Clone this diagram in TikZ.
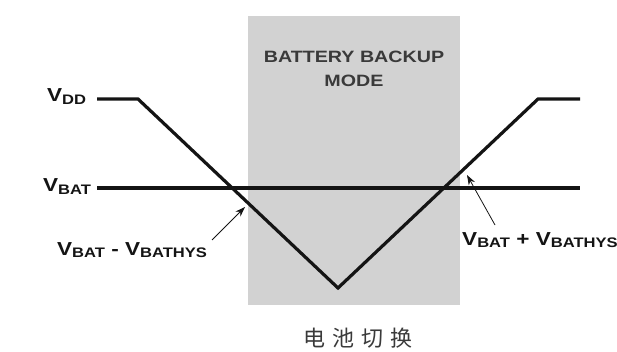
\documentclass[tikz,border=0pt]{standalone}
\usepackage{fontspec}
\setmainfont{Liberation Sans}
\newfontfamily\cjk{Noto Sans CJK SC}
\usetikzlibrary{arrows.meta}
\definecolor{boxgray}{HTML}{D2D2D2}
\definecolor{inkc}{HTML}{141414}
\definecolor{titlec}{HTML}{3A3A3A}
\newcommand\vsub[1]{V\raisebox{-2.5pt}{\fontsize{13.8}{13.8}\selectfont #1}}
\newcommand\wide[1]{\scalebox{1.2}[1]{#1}}
\tikzset{
  sig/.style={line width=3.2pt, inkc, line join=miter},
  lbl/.style={inner sep=0pt, font=\bfseries\fontsize{18.8}{18.8}\selectfont, text=inkc},
  ttl/.style={inner sep=0pt, font=\bfseries\fontsize{16.4}{16.4}\selectfont, text=titlec},
  ptr/.style={line width=0.8pt, inkc, -{Stealth[length=10pt,width=7pt]}},
}
\begin{document}
\begin{tikzpicture}[x=1pt,y=-1pt]
\useasboundingbox (0,0) rectangle (617,352);
\fill[white] (0,0) rectangle (617,352);
% shaded region
\fill[boxgray] (248,16) rectangle (460,305);
\node[ttl, anchor=base] (t1) at (354,63) {\wide{BATTERY BACKUP}};
\node[ttl, anchor=base] (t2) at (354,87) {\wide{MODE}};
% waveform coordinates
\coordinate (d0) at (97,99);
\coordinate (d1) at (138,99);
\coordinate (d2) at (338,288);
\coordinate (d3) at (538,99);
\coordinate (d4) at (580,99);
\coordinate (b0) at (97,188);
\coordinate (b1) at (580,188);
\draw[sig] (b0) -- (b1);
\draw[sig] (d0) -- (d1) -- (d2) -- (d3) -- (d4);
% labels
\node[lbl, anchor=base west] (vdd) at (47,102) {\wide{\vsub{DD}}};
\node[lbl, anchor=base west] (vbat) at (43,192) {\wide{\vsub{BAT}}};
\node[lbl, anchor=base west] (lo) at (57,255) {\wide{\vsub{BAT} - \vsub{BATHYS}}};
\node[lbl, anchor=base west] (hi) at (462,245) {\wide{\vsub{BAT} + \vsub{BATHYS}}};
% pointers
\coordinate (la) at (212,240);
\coordinate (lt) at (245,207);
\coordinate (ra) at (495,225);
\coordinate (rt) at (467,175);
\draw[ptr] (la) -- (lt);
\draw[ptr] (ra) -- (rt);
% caption
\node[inner sep=0pt, font=\cjk\fontsize{22}{22}\selectfont, text=titlec] (cap) at (358,338) {电\hspace{7pt}池\hspace{7pt}切\hspace{7pt}换};
\end{tikzpicture}
\end{document}
